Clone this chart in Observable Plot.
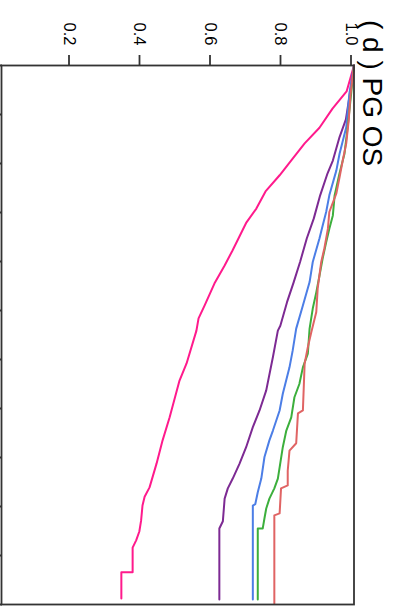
<!DOCTYPE html>
<html>
<head>
<meta charset="utf-8">
<script src="https://cdn.jsdelivr.net/npm/d3@7"></script>
<script src="https://cdn.jsdelivr.net/npm/@observablehq/plot@0.6"></script>
<style>
  html, body { margin: 0; padding: 0; background: #fff; overflow: hidden; width: 393px; height: 607px; }
  #fig { position: absolute; left: 0; top: 0; width: 607px; height: 393px;
         transform-origin: 0 0; transform: translate(393px, 0) rotate(90deg); background: #fff; }
  #title { position: absolute; left: 20px; top: 7px; font-family: "Liberation Sans", Arial, sans-serif;
           font-size: 28px; line-height: 1; color: #000; white-space: pre; }
  #plot { position: absolute; left: 0; top: 0; }
</style>
</head>
<body>
<div id="fig"><div id="plot"></div><div id="title">( d ) PG OS</div></div>
<script>
// Kaplan–Meier curves (time in axis units, survival probability)
const groups = ["1", "2", "3", "4", "5"];
const groupColors = ["#ff1a8c", "#7d2a93", "#4c7ee6", "#3caf3c", "#e06464"];

const pinkTime = [0, 0.53, 0.88, 1.27, 1.59, 1.90, 2.24, 2.57, 2.92, 3.20, 3.49, 3.78, 4.08, 4.45, 4.90, 5.16, 5.41, 6.08, 6.43, 7.18, 7.65, 8.12, 8.61, 8.80, 8.98, 9.29, 9.51, 9.69, 9.84, 10.34, 10.34, 10.88];
const pinkSurv = [1, 0.979, 0.939, 0.902, 0.860, 0.826, 0.789, 0.749, 0.723, 0.695, 0.675, 0.655, 0.633, 0.604, 0.576, 0.559, 0.553, 0.525, 0.505, 0.477, 0.457, 0.440, 0.420, 0.406, 0.400, 0.396, 0.391, 0.382, 0.372, 0.372, 0.340, 0.340];

const purpleTime = [0, 0.5, 1.1, 1.46, 1.94, 2.2, 2.65, 3.12, 3.53, 4.01, 4.42, 4.83, 5.31, 5.41, 5.95, 6.63, 7.04, 7.38, 7.79, 8.13, 8.43, 8.63, 8.84, 9.30, 9.45, 10.9];
const purpleSurv = [1, 0.99, 0.977, 0.959, 0.94, 0.925, 0.904, 0.886, 0.866, 0.847, 0.829, 0.81, 0.791, 0.784, 0.77, 0.751, 0.732, 0.713, 0.694, 0.675, 0.656, 0.642, 0.633, 0.628, 0.618, 0.618];

const blueTime = [0, 0.57, 1.26, 1.8, 2.14, 2.65, 2.99, 3.27, 3.53, 4.01, 4.42, 4.9, 5.37, 5.82, 6.16, 6.7, 7.04, 7.45, 7.65, 7.99, 8.43, 8.71, 8.95, 8.98, 10.9];
const blueSurv = [1, 0.987, 0.978, 0.959, 0.95, 0.93, 0.921, 0.911, 0.902, 0.883, 0.874, 0.855, 0.836, 0.826, 0.817, 0.798, 0.789, 0.77, 0.76, 0.746, 0.737, 0.727, 0.72, 0.713, 0.713];

const greenTime = [0, 0.57, 1.26, 1.8, 2.2, 2.65, 3.06, 3.33, 3.61, 3.94, 4.29, 4.63, 4.96, 5.37, 5.88, 6.16, 6.5, 6.77, 7.18, 7.45, 7.79, 8.2, 8.43, 8.63, 8.84, 9.04, 9.24, 9.45, 9.45, 10.9];
const greenSurv = [1, 0.992, 0.982, 0.973, 0.959, 0.945, 0.94, 0.93, 0.921, 0.911, 0.902, 0.893, 0.883, 0.874, 0.869, 0.855, 0.845, 0.831, 0.822, 0.808, 0.798, 0.789, 0.784, 0.774, 0.76, 0.751, 0.746, 0.741, 0.727, 0.727];

const redTime = [0, 0.6, 1.12, 1.59, 1.94, 2.28, 2.61, 2.99, 3.33, 3.73, 4.01, 4.55, 5.03, 5.44, 5.75, 6.08, 7.04, 7.10, 7.71, 7.86, 8.27, 8.57, 8.63, 9.14, 9.18, 10.98];
const redSurv = [1, 0.99, 0.985, 0.978, 0.968, 0.959, 0.95, 0.93, 0.926, 0.916, 0.907, 0.897, 0.893, 0.879, 0.869, 0.86, 0.855, 0.841, 0.836, 0.817, 0.812, 0.812, 0.793, 0.789, 0.774, 0.774];

const timeTicks = [0, 1, 2, 3, 4, 5, 6, 7, 8, 9, 10, 11];
const survTicks = [0, 0.2, 0.4, 0.6, 0.8, 1.0];
const survTickLabels = ["", "0.2", "0.4", "0.6", "0.8", "1.0"];

const seriesTimes = [pinkTime, purpleTime, blueTime, greenTime, redTime];
const seriesSurv = [pinkSurv, purpleSurv, blueSurv, greenSurv, redSurv];
const rows = [];
groups.forEach((g, i) => {
  seriesTimes[i].forEach((t, j) => rows.push({group: g, time: t, surv: seriesSurv[i][j]}));
});

const chart = Plot.plot({
  width: 607,
  height: 393,
  marginLeft: 65,
  marginRight: 3,
  marginTop: 38.5,
  marginBottom: 2,
  style: {fontFamily: "'Liberation Sans', Arial, sans-serif", background: "#fff", color: "#000", overflow: "visible"},
  x: {domain: [0, 11]},
  y: {domain: [0, 1]},
  color: {domain: groups, range: groupColors},
  marks: [
    Plot.line(rows, {x: "time", y: "surv", z: "group", stroke: "group", strokeWidth: 2, curve: "linear"}),
    Plot.frame({stroke: "#333", strokeWidth: 1.8}),
    Plot.axisY({ticks: survTicks, tickFormat: d => survTickLabels[survTicks.indexOf(d)], tickSize: 10, tickPadding: 10,
                fontSize: 16.5, stroke: "#333", strokeWidth: 1.8, label: null, dy: 3}),
    Plot.axisX({ticks: timeTicks, tickFormat: () => "", tickSize: 6, stroke: "#333", strokeWidth: 1.8, label: null})
  ]
});
document.getElementById("plot").appendChild(chart);
</script>
</body>
</html>
